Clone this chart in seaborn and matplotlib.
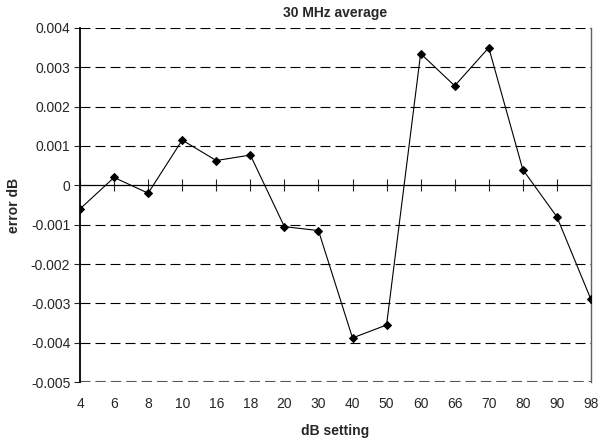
import numpy as np
import pandas as pd
import matplotlib
matplotlib.use('Agg')
import matplotlib.pyplot as plt
import seaborn as sns

settings = ['4', '6', '8', '10', '16', '18', '20', '30', '40', '50', '60', '66', '70', '80', '90', '98']
errors = [-0.0006, 0.0002, -0.0002, 0.00115, 0.00063, 0.00077, -0.00105, -0.00115,
          -0.00388, -0.00355, 0.00335, 0.00253, 0.0035, 0.0004, -0.0008, -0.0029]
y_ticks = [-0.005, -0.004, -0.003, -0.002, -0.001, 0, 0.001, 0.002, 0.003, 0.004]
y_labels = ['-0.005', '-0.004', '-0.003', '-0.002', '-0.001', '0', '0.001', '0.002', '0.003', '0.004']

df = pd.DataFrame({'pos': np.arange(len(settings)), 'err': errors})

sns.set_style('white')
plt.rcParams['font.family'] = ['Liberation Sans', 'DejaVu Sans']

fig = plt.figure(figsize=(6.03, 4.40), dpi=100)
ax = fig.add_axes([0.1327, 0.1318, 0.8473, 0.8046])

# dashed grid
for v in y_ticks[1:]:
    if v == 0:
        continue
    ax.axhline(v, color='black', lw=0.8, ls=(0, (9, 4.5)), zorder=1)
ax.axhline(y_ticks[0], color='#555555', lw=1.5, ls=(0, (5, 2.4)), zorder=1)
ax.axhline(0, color='black', lw=0.9, zorder=2)

sns.lineplot(data=df, x='pos', y='err', ax=ax, color='black', lw=0.8,
             marker='D', markersize=4, markeredgecolor='black', zorder=3)

ax.set_xlim(0, len(settings) - 1)
ax.set_ylim(y_ticks[0], y_ticks[-1])
ax.set_yticks(y_ticks)
ax.set_yticklabels(y_labels)
ax.set_xticks(df['pos'])
ax.set_xticklabels(settings)
ax.tick_params(axis='x', length=0, pad=11, labelsize=10)
ax.tick_params(axis='y', length=4, width=0.8, direction='out', left=True, labelsize=10, pad=3)

# tick marks on the zero line
zero_frac = (0 - y_ticks[0]) / (y_ticks[-1] - y_ticks[0])
sec = ax.secondary_xaxis(zero_frac)
sec.set_xticks(df['pos'])
sec.tick_params(axis='x', direction='inout', length=8, width=0.8, labelbottom=False, labeltop=False)
sec.spines['bottom'].set_visible(False)
sec.spines['top'].set_visible(False)

for s in ['top', 'bottom']:
    ax.spines[s].set_visible(False)
ax.spines['left'].set_color('black')
ax.spines['left'].set_linewidth(1.3)
ax.spines['right'].set_color('#606060')
ax.spines['right'].set_linewidth(1.0)

ax.set_title('30 MHz average', fontsize=10, fontweight='bold', pad=8)
ax.set_xlabel('dB setting', fontsize=10, fontweight='bold', labelpad=9)
ax.set_ylabel('error dB', fontsize=10, fontweight='bold', labelpad=7)

fig.savefig('out.png', dpi=100)
